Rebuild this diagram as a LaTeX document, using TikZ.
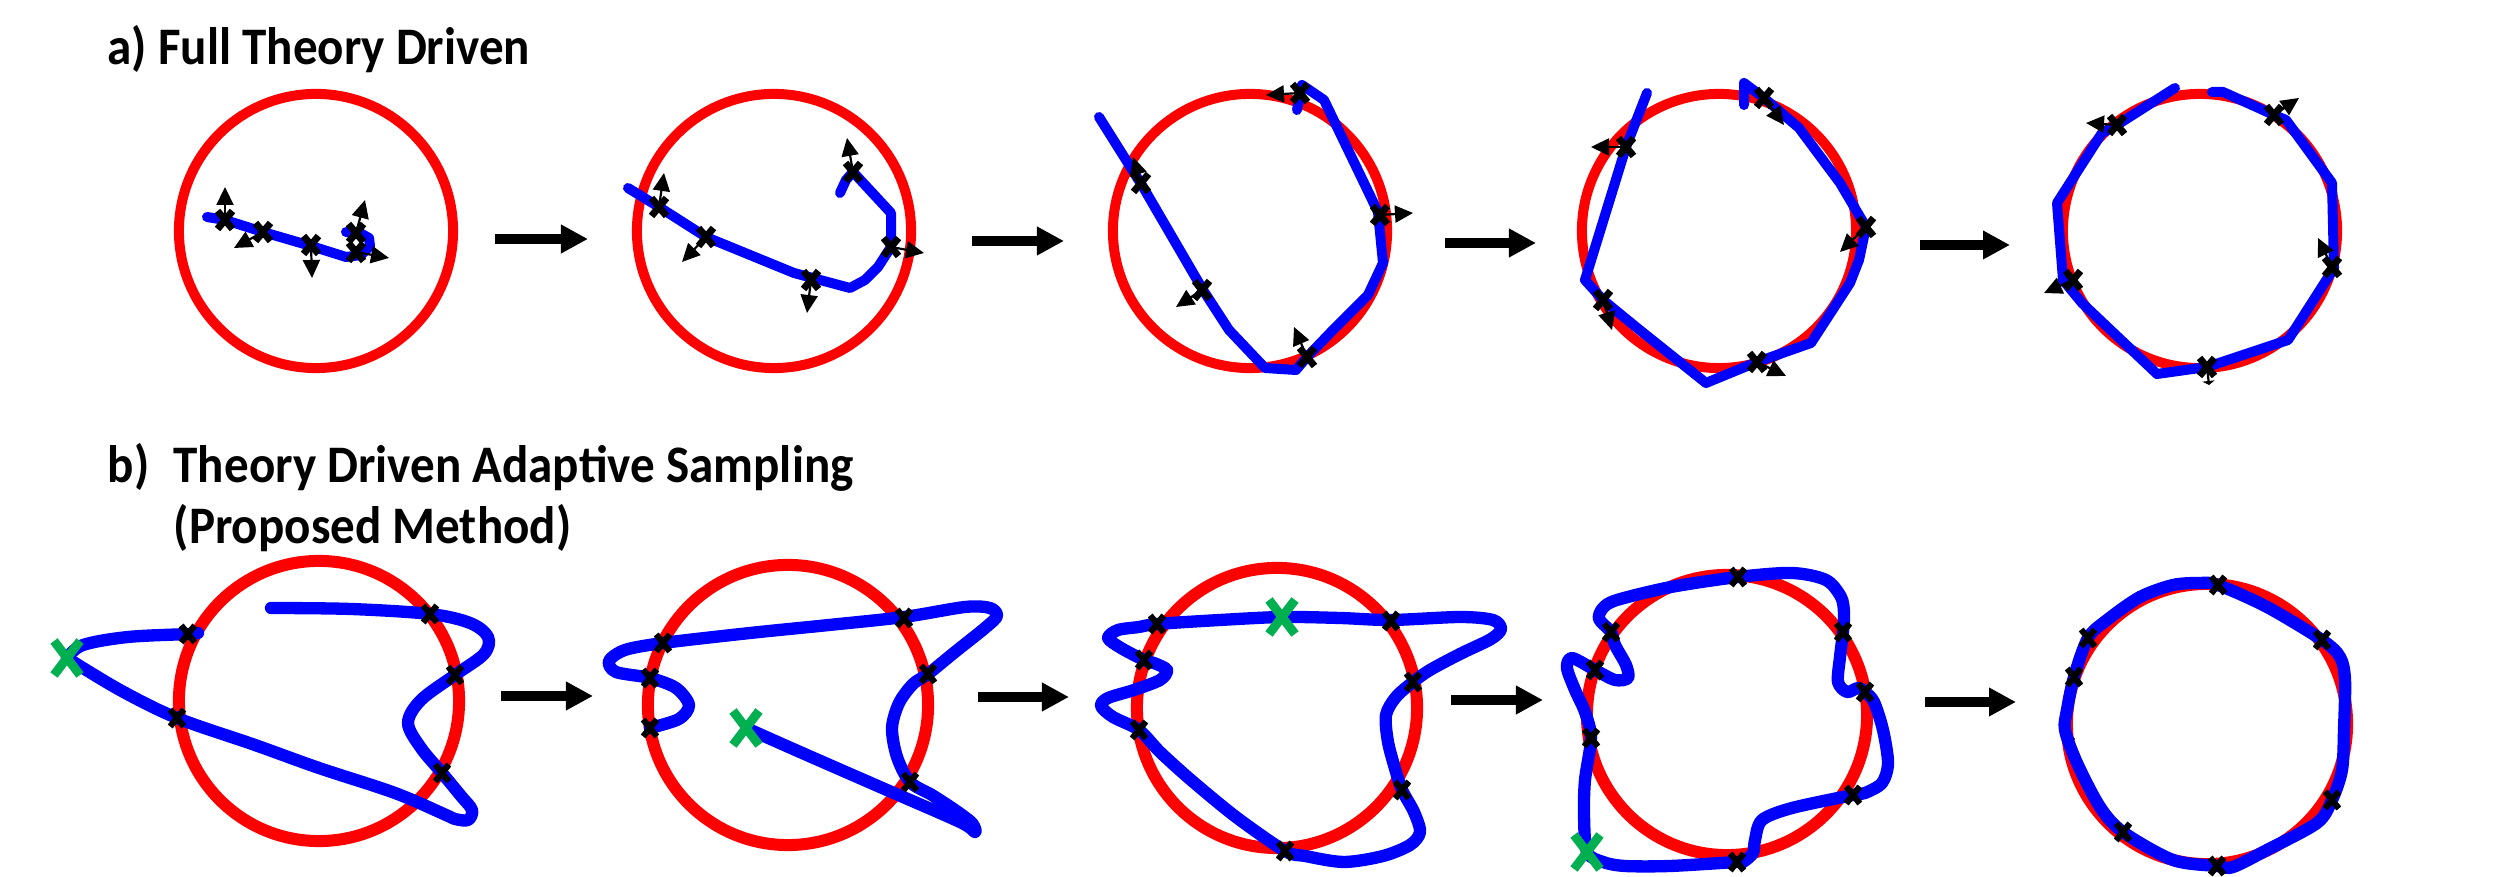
\documentclass[tikz,border=0pt]{standalone}
\usepackage{fontspec}
\setmainfont{Carlito}
\newfontfamily\tfont{Carlito}[FakeStretch=0.93]
\usetikzlibrary{arrows.meta}
\definecolor{xgreen}{RGB}{0,176,80}
\tikzset{
  redca/.style={draw=red, line width=0.1cm},
  redcb/.style={draw=red, line width=0.12cm},
  bluea/.style={draw=blue, line width=0.1cm, line join=round, line cap=round},
  blueb/.style={draw=blue, line width=0.123cm, line join=round, line cap=round},
  bigarrow/.style={line width=0.1cm, -{Triangle[length=0.27cm,width=0.27cm]}},
  grad/.style={line width=0.022cm, -{Triangle[length=0.18cm,width=0.17cm]}},
  title/.style={font=\tfont\bfseries\fontsize{15}{18}\selectfont, inner sep=0pt, anchor=base west},
  xa/.pic={\draw[line width=0.07cm] (-0.075cm,-0.09cm)--(0.075cm,0.09cm) (-0.075cm,0.09cm)--(0.075cm,-0.09cm);},
  xb/.pic={\draw[line width=0.062cm] (-0.068cm,-0.085cm)--(0.068cm,0.085cm) (-0.068cm,0.085cm)--(0.068cm,-0.085cm);},
  xs/.pic={\draw[line width=0.03cm] (-0.04cm,-0.05cm)--(0.04cm,0.05cm) (-0.04cm,0.05cm)--(0.04cm,-0.05cm);},
  xg/.pic={\draw[xgreen, line width=0.09cm] (-0.13cm,-0.17cm)--(0.13cm,0.17cm) (-0.13cm,0.17cm)--(0.13cm,-0.17cm);}
}
\begin{document}
\begin{tikzpicture}[x=0.01cm, y=-0.01cm]
\useasboundingbox (0,0) rectangle (2499,877);
% ---------- titles
\node[title] (ta) at (107,65) {a) Full Theory Driven};
\node[title] (tb1) at (107,483) {b)};
\node[title] (tb2) at (173,483) {Theory Driven Adaptive Sampling};
\node[title] (tb3) at (173,544) {(Proposed Method)};

% ---------- row a : circles
\draw[redca] (316,231) circle[radius=1.37cm];
\draw[redca] (774,231) circle[radius=1.37cm];
\draw[redca] (1250,231) circle[radius=1.37cm];
\draw[redca] (1719,231) circle[radius=1.37cm];
\draw[redca] (2200,231) circle[radius=1.37cm];

% ---------- row a : blue estimates
\draw[bluea] plot coordinates {(207,217) (225,220) (263,232) (311,246) (346,257) (361,255) (370,246) (369,238) (360,233) (346,232)};
\draw[bluea] plot coordinates {(628,188) (659,207) (706,237) (794,273) (850,288) (865,280) (878,267) (891,247) (891,213) (853,172) (846,180) (840,193)};
\draw[bluea] plot coordinates {(1297,110) (1302,85) (1324,100) (1378,212) (1383,263) (1368,295) (1332,331) (1307,357) (1296,370) (1265,368) (1229,330) (1203,290) (1143,187) (1099,117)};
\draw[bluea] plot coordinates {(1744,105) (1744,83) (1764,98) (1799,128) (1840,183) (1866,227) (1859,260) (1850,283) (1811,343) (1757,362) (1706,383) (1636,327) (1603,300) (1585,280) (1626,147) (1647,93)};
\draw[bluea] plot coordinates {(2212,92) (2223,92) (2274,115) (2286,120) (2332,183) (2334,268) (2288,340) (2207,367) (2157,374) (2082,303) (2063,280) (2057,203) (2102,133) (2117,125) (2175,88)};

% ---------- row a : gradient arrows
\foreach \a/\b in {
  {(225,220)}/{(225,187)}, {(263,232)}/{(234,248)}, {(311,245)}/{(312,278)}, {(356,233)}/{(365,200)}, {(356,252)}/{(389,258)},
  {(659,207)}/{(664,173)}, {(706,237)}/{(682,262)}, {(811,280)}/{(807,313)}, {(891,247)}/{(924,253)}, {(853,172)}/{(847,138)},
  {(1141,183)}/{(1133,157)}, {(1202,290)}/{(1176,307)}, {(1307,357)}/{(1294,327)}, {(1380,215)}/{(1413,213)}, {(1300,93)}/{(1266,95)},
  {(1626,147)}/{(1591,147)}, {(1603,300)}/{(1612,330)}, {(1757,362)}/{(1786,376)}, {(1866,227)}/{(1840,252)}, {(1764,98)}/{(1784,125)},
  {(2117,125)}/{(2086,123)}, {(2073,280)}/{(2044,293)}, {(2332,267)}/{(2318,238)}, {(2274,115)}/{(2299,98)}}
  \draw[grad] \a -- \b;
\draw[line width=0.022cm, -{Triangle[length=0.04cm,width=0.12cm]}] (2207,367) -- (2209,385);

% ---------- row a : crosses
\foreach \p in {(225,220), (263,232), (311,245), (356,233), (356,252),
  (659,207), (706,237), (811,280), (891,247), (853,172),
  (1141,183), (1202,290), (1307,357), (1380,215), (1300,93),
  (1626,147), (1603,300), (1757,362), (1866,227), (1764,98),
  (2117,125), (2073,280), (2207,367), (2332,267), (2274,115)}
  \pic at \p {xa};

% ---------- row a : big arrows
\coordinate (a1s) at (495,239); \coordinate (a1e) at (588,239);
\coordinate (a2s) at (972,241); \coordinate (a2e) at (1064,241);
\coordinate (a3s) at (1445,243); \coordinate (a3e) at (1536,243);
\coordinate (a4s) at (1920,245); \coordinate (a4e) at (2010,245);
\draw[bigarrow] (a1s) -- (a1e);
\draw[bigarrow] (a2s) -- (a2e);
\draw[bigarrow] (a3s) -- (a3e);
\draw[bigarrow] (a4s) -- (a4e);

% ---------- row b : circles
\draw[redcb] (319,701) circle[radius=1.40cm];
\draw[redcb] (788,705) circle[radius=1.40cm];
\draw[redcb] (1277,708) circle[radius=1.40cm];
\draw[redcb] (1727,715) circle[radius=1.40cm];
\draw[redcb] (2207,724) circle[radius=1.40cm];

% partially hidden marks of panel 5
\pic at (2345,697) {xs};
\pic at (2070,743) {xs};

% ---------- row b : blue estimates
% panel 1
\draw[blueb] plot[smooth, tension=0.55] coordinates {(271,608) (351,609) (430,614) (470,623) (488,637) (484,654) (455,675) (421,700) (408,723) (421,748) (442,773) (461,796) (472,810) (468,820) (455,819) (446,815) (395,793) (319,768) (255,745) (177,718) (120,690) (67,658)};
\draw[blueb] plot[smooth, tension=0.55] coordinates {(67,658) (83,645) (128,637) (188,634) (198,633)};
% panel 2
\draw[blueb] plot[smooth, tension=0.5] coordinates {(746,728) (800,752) (880,787) (960,822) (975,832) (972,823) (955,810) (932,795) (910,782) (897,757) (892,728) (899,703) (913,684) (928,674) (955,652) (985,628) (997,616) (990,608) (965,607) (904,617) (829,625) (750,633) (663,643) (625,650) (609,661) (616,672) (650,678) (676,688) (689,705) (679,719) (650,728)};
% panel 3
\draw[blueb] plot[smooth cycle, tension=0.5] coordinates {(1157,624) (1220,620) (1282,617) (1340,618) (1391,620) (1460,617) (1493,620) (1501,629) (1491,639) (1460,654) (1430,670) (1413,682) (1396,697) (1386,715) (1388,742) (1396,772) (1402,790) (1414,812) (1420,832) (1410,845) (1383,856) (1344,862) (1305,856) (1285,851) (1236,817) (1191,780) (1160,752) (1139,730) (1113,717) (1101,706) (1108,698) (1134,690) (1160,680) (1167,670) (1154,663) (1144,660) (1121,648) (1108,638) (1118,630) (1139,627)};
% panel 4
\draw[blueb] plot[smooth cycle, tension=0.5] coordinates {(1587,852) (1584,815) (1585,780) (1591,738) (1585,712) (1575,690) (1567,668) (1572,658) (1595,670) (1615,680) (1628,678) (1626,665) (1615,645) (1611,632) (1599,619) (1603,608) (1617,600) (1671,587) (1738,577) (1792,573) (1826,580) (1841,597) (1844,613) (1843,632) (1840,657) (1838,682) (1847,692) (1858,688) (1865,692) (1874,702) (1883,730) (1888,763) (1882,783) (1865,793) (1853,795) (1792,808) (1762,820) (1755,840) (1753,853) (1743,862) (1737,862) (1670,866) (1625,866) (1603,862)};
% panel 5
\draw[blueb] plot[smooth cycle, tension=0.5] coordinates {(2200,583) (2218,585) (2267,607) (2322,640) (2340,657) (2345,680) (2344,730) (2342,770) (2332,800) (2317,823) (2267,850) (2233,867) (2217,866) (2173,860) (2123,832) (2100,807) (2077,763) (2065,730) (2067,710) (2074,677) (2088,638) (2107,620) (2140,597) (2173,585)};

% ---------- row b : black crosses
\foreach \p in {(430,614), (455,675), (442,773), (177,718), (188,634),
  (904,618), (663,643), (650,678), (650,728), (928,674), (910,782),
  (1157,624), (1144,660), (1139,730), (1285,851), (1402,790), (1413,682), (1391,621),
  (1591,738), (1595,670), (1611,632), (1738,577), (1843,632), (1865,692), (1853,795), (1737,862),
  (2218,585), (2322,640), (2332,800), (2217,866), (2123,832), (2074,677), (2088,638)}
  \pic at \p {xb};

% ---------- row b : green crosses
\pic at (67,658) {xg};
\pic at (746,728) {xg};
\pic at (1282,617) {xg};
\pic at (1587,852) {xg};

% ---------- row b : big arrows
\coordinate (b1s) at (501,696); \coordinate (b1e) at (593,696);
\coordinate (b2s) at (978,697); \coordinate (b2e) at (1069,697);
\coordinate (b3s) at (1451,700); \coordinate (b3e) at (1543,700);
\coordinate (b4s) at (1925,702); \coordinate (b4e) at (2016,702);
\draw[bigarrow] (b1s) -- (b1e);
\draw[bigarrow] (b2s) -- (b2e);
\draw[bigarrow] (b3s) -- (b3e);
\draw[bigarrow] (b4s) -- (b4e);
\end{tikzpicture}
\end{document}
